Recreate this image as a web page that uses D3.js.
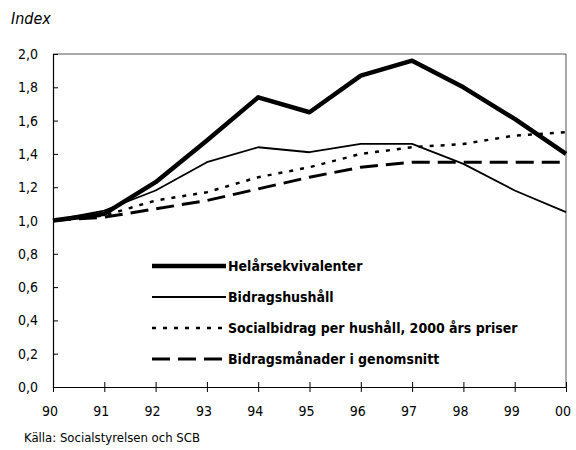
<!DOCTYPE html>
<html>
<head>
<meta charset="utf-8">
<script src="https://cdn.jsdelivr.net/npm/d3@7"></script>
<style>
  body { margin: 0; background: #fff; }
  text { font-family: "Liberation Sans Narrow", "DejaVu Sans Condensed", "Arial Narrow", sans-serif; }
</style>
</head>
<body>
<div id="chart"></div>
<script>
const years = ['90', '91', '92', '93', '94', '95', '96', '97', '98', '99', '00'];
const helarsekvivalenter = [1.00, 1.04, 1.23, 1.48, 1.74, 1.65, 1.87, 1.96, 1.80, 1.61, 1.40];
const bidragshushall = [1.00, 1.06, 1.18, 1.35, 1.44, 1.41, 1.46, 1.46, 1.34, 1.18, 1.05];
const socialbidrag = [1.00, 1.03, 1.12, 1.17, 1.26, 1.32, 1.40, 1.44, 1.46, 1.51, 1.53];
const bidragsmanader = [1.00, 1.02, 1.07, 1.12, 1.19, 1.26, 1.32, 1.35, 1.35, 1.35, 1.35];
const yTicks = [0, 0.2, 0.4, 0.6, 0.8, 1.0, 1.2, 1.4, 1.6, 1.8, 2.0];

const series = [
  { name: 'Helårsekvivalenter', values: helarsekvivalenter, width: 4.5, dash: null },
  { name: 'Bidragshushåll', values: bidragshushall, width: 1.8, dash: null },
  { name: 'Socialbidrag per hushåll, 2000 års priser', values: socialbidrag, width: 2.5, dash: '4,7' },
  { name: 'Bidragsmånader i genomsnitt', values: bidragsmanader, width: 3, dash: '18,8' }
];

const W = 576, H = 450;
const mLeft = 53, mRight = 566, mTop = 54, mBottom = 387;

const svg = d3.select('#chart').append('svg')
  .attr('width', W)
  .attr('height', H);

const x = d3.scalePoint()
  .domain(years)
  .range([mLeft, mRight]);

const y = d3.scaleLinear()
  .domain([0, 2])
  .range([mBottom, mTop]);

// frame (top and right)
svg.append('path')
  .attr('d', `M${mLeft},${mTop}H${mRight}V${mBottom}`)
  .attr('fill', 'none')
  .attr('stroke', '#555')
  .attr('stroke-width', 1);

// y axis
svg.append('g')
  .attr('transform', `translate(${mLeft},0)`)
  .call(d3.axisRight(y).tickValues(yTicks).tickSize(5).tickFormat(''))
  .call(g => g.select('.domain').attr('stroke', '#000').attr('stroke-width', 1.2))
  .call(g => g.selectAll('.tick line').attr('stroke', '#000'));

svg.append('g')
  .selectAll('text')
  .data(yTicks)
  .join('text')
  .attr('x', mLeft - 15)
  .attr('y', d => y(d) + 5)
  .attr('text-anchor', 'end')
  .style('font-size', '14px')
  .text(d => d3.format('.1f')(d).replace('.', ','));

// x axis
svg.append('g')
  .attr('transform', `translate(0,${mBottom})`)
  .call(d3.axisBottom(x).tickSizeInner(5).tickSizeOuter(0).tickFormat(''))
  .call(g => g.select('.domain').attr('stroke', '#000').attr('stroke-width', 1.2))
  .call(g => g.selectAll('.tick line').attr('y1', -5).attr('stroke', '#000'));

svg.append('g')
  .selectAll('text')
  .data(years)
  .join('text')
  .attr('x', d => x(d) - 3)
  .attr('y', mBottom + 29)
  .attr('text-anchor', 'middle')
  .style('font-size', '14px')
  .text(d => d);

// lines
let line = d3.line()
  .x((d, i) => x(years[i]))
  .y(d => y(d));

svg.append('g')
  .selectAll('path')
  .data(series)
  .join('path')
  .attr('d', d => line(d.values))
  .attr('fill', 'none')
  .attr('stroke', '#000')
  .attr('stroke-width', d => d.width)
  .attr('stroke-dasharray', d => d.dash)
  .attr('stroke-linejoin', 'round');

// legend
let legend = svg.append('g')
  .selectAll('g')
  .data(series)
  .join('g')
  .attr('transform', (d, i) => `translate(152,${266 + i * 31})`);

legend.append('line')
  .attr('x1', 0)
  .attr('x2', 74)
  .attr('stroke', '#000')
  .attr('stroke-width', d => d.width)
  .attr('stroke-dasharray', d => d.dash);

legend.append('text')
  .attr('x', 76)
  .attr('y', 5)
  .style('font-size', '14px')
  .style('font-weight', 'bold')
  .text(d => d.name);

// titles
svg.append('text')
  .attr('x', 11)
  .attr('y', 24)
  .style('font-size', '16px')
  .style('font-style', 'italic')
  .text('Index');

svg.append('text')
  .attr('x', 24)
  .attr('y', 442)
  .style('font-size', '13px')
  .text('Källa: Socialstyrelsen och SCB');
</script>
</body>
</html>
